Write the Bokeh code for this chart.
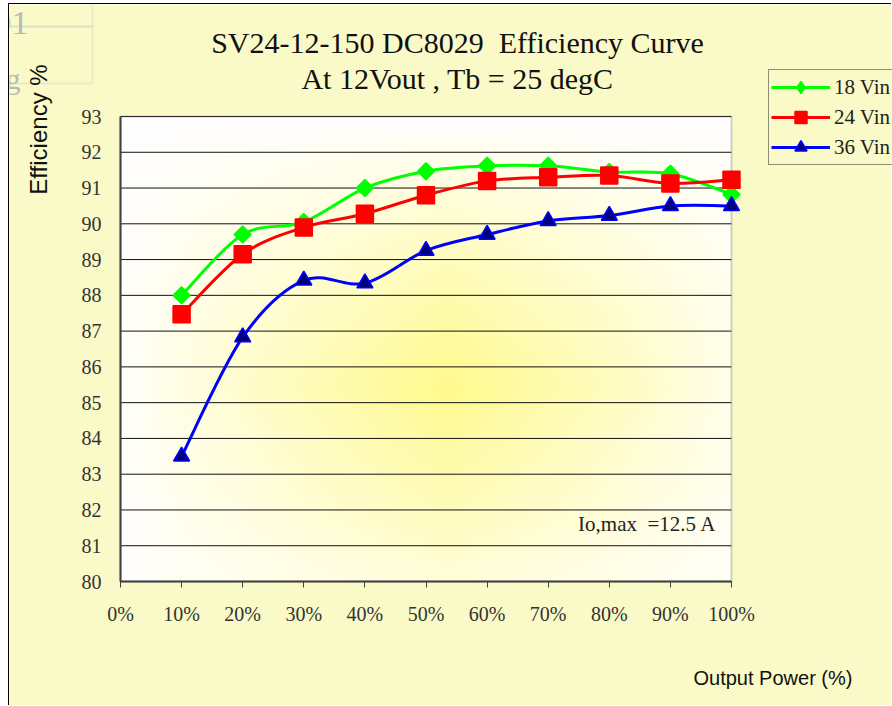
import numpy as np
from bokeh.plotting import figure
from bokeh.models import (Label, Legend, LegendItem, FixedTicker, Range1d,
                          ColumnDataSource, BoxAnnotation)
from bokeh.embed import file_html
from bokeh.resources import INLINE

# ---------------- data ----------------
load_pct = [10, 20, 30, 40, 50, 60, 70, 80, 90, 100]
eff_18vin = [88.0, 89.7, 90.05, 91.0, 91.47, 91.62, 91.62, 91.45, 91.4, 90.82]
eff_24vin = [87.47, 89.15, 89.9, 90.28, 90.8, 91.2, 91.3, 91.35, 91.13, 91.23]
eff_36vin = [83.5, 86.83, 88.42, 88.34, 89.25, 89.7, 90.08, 90.23, 90.5, 90.5]
series_names = ["18 Vin", "24 Vin", "36 Vin"]
x_ticks = [0, 10, 20, 30, 40, 50, 60, 70, 80, 90, 100]
x_tick_labels = ["0%", "10%", "20%", "30%", "40%", "50%", "60%", "70%", "80%", "90%", "100%"]
y_ticks = list(range(80, 94))
title_1 = "SV24-12-150 DC8029\u00a0 Efficiency Curve"
title_2 = "At 12Vout , Tb = 25 degC"
note = "Io,max \u00a0=12.5 A"
x_title = "Output Power (%)"
y_title = "Efficiency %"

# ---------------- layout ----------------
OX, OY = 9, 4                  # canvas origin on the page (css margin + border)
W, H = 892 - OX, 706 - OY
FL, FR, FT, FB = 120, 731, 116, 581   # plot-area edges on the page
BG = "#FAFAC8"
SERIF = "Liberation Serif"
SANS = "Liberation Sans"

x0d, x1d = x_ticks[0], x_ticks[-1]
y0d, y1d = y_ticks[0], y_ticks[-1]
kx = (FR - FL) / (x1d - x0d)   # px per x unit
ky = (FB - FT) / (y1d - y0d)   # px per y unit
xr = Range1d(x0d - (FL - OX) / kx, x1d + (OX + W - FR) / kx)
yr = Range1d(y0d - (OY + H - FB) / ky, y1d + (FT - OY) / ky)

p = figure(width=W, height=H, output_backend="svg", toolbar_location=None,
           x_range=xr, y_range=yr, min_border=0, min_border_left=0,
           min_border_right=0, min_border_top=0, min_border_bottom=0)
p.styles = {"margin-left": "8px", "margin-top": "3px",
            "border-left": "1px solid #000000", "border-top": "1px solid #000000"}
p.background_fill_color = BG
p.border_fill_color = BG
p.outline_line_color = None

# white plot area with a soft yellow "from centre" glow
pw, ph = FR - FL, FB - FT
nr, nc = ph // 2 + 1, pw // 2 + 1
yy, xx = np.mgrid[0:nr, 0:nc]
px = xx * 2.0
py = (nr - 1 - yy) * 2.0  # distance from top of plot area
cx, cy, rx, ry = 327.0, 270.0, 330.0, 265.0
fu = np.clip(1 - np.abs(px - cx) / rx, 0, 1)
fv = np.clip(1 - np.abs(py - cy) / ry, 0, 1)
t = (fu * fv) ** 0.85
g = 255 - t * (255 - 250)
b = 255 - t * (255 - 140)
img = np.empty((nr, nc), dtype=np.uint32)
view = img.view(dtype=np.uint8).reshape((nr, nc, 4))
view[..., 0] = 255
view[..., 1] = g.astype(np.uint8)
view[..., 2] = b.astype(np.uint8)
view[..., 3] = 255
p.image_rgba(image=[img], x=x0d, y=y0d, dw=x1d - x0d, dh=y1d - y0d, level="image")

# horizontal grid lines limited to the plot area
p.segment(x0=[x0d] * len(y_ticks), x1=[x1d] * len(y_ticks), y0=y_ticks, y1=y_ticks,
          line_color="#111111", line_width=1, level="underlay")
p.xgrid.grid_line_color = None
p.ygrid.grid_line_color = None
# plot-area frame
p.add_layout(BoxAnnotation(left=x0d, right=x1d, bottom=y0d, top=y1d,
                           fill_alpha=0, line_color="#6A6A6A", line_width=2,
                           level="underlay"))

# axes drawn at the plot-area edges
p.xaxis.fixed_location = y0d
p.yaxis.fixed_location = x0d
p.xaxis.bounds = (x0d, x1d)
p.yaxis.bounds = (y0d, y1d)
p.xaxis.ticker = FixedTicker(ticks=x_ticks)
p.xaxis.major_label_overrides = {k: v for k, v in zip(x_ticks, x_tick_labels)}
p.yaxis.ticker = FixedTicker(ticks=y_ticks)
for ax in (p.xaxis, p.yaxis):
    ax.axis_line_color = "#404040"
    ax.axis_line_width = 2
    ax.minor_tick_line_color = None
    ax.major_label_text_font = SERIF
    ax.major_label_text_font_size = "20px"
    ax.major_label_text_color = "#333333"
    ax.major_tick_line_color = "#404040"
p.xaxis.major_tick_out = 6
p.xaxis.major_tick_in = 0
p.xaxis.major_label_standoff = 15
p.yaxis.major_tick_out = 0
p.yaxis.major_tick_in = 0
p.yaxis.major_label_standoff = 19


def smooth_segments(xs, ys):
    xs = np.asarray(xs, float)
    ys = np.asarray(ys, float)
    n = len(xs)
    out = {k: [] for k in ("x0", "y0", "x1", "y1", "cx0", "cy0", "cx1", "cy1")}
    for i in range(n - 1):
        a = max(i - 1, 0)
        c = min(i + 2, n - 1)
        out["x0"].append(xs[i]); out["y0"].append(ys[i])
        out["x1"].append(xs[i + 1]); out["y1"].append(ys[i + 1])
        out["cx0"].append(xs[i] + (xs[i + 1] - xs[a]) / 6)
        out["cy0"].append(ys[i] + (ys[i + 1] - ys[a]) / 6)
        out["cx1"].append(xs[i + 1] - (xs[c] - xs[i]) / 6)
        out["cy1"].append(ys[i + 1] - (ys[c] - ys[i]) / 6)
    return ColumnDataSource(out)


styles = [
    dict(color="#00FF00", marker="square", angle=np.pi / 4, size=12,
         fill="#00FF00", line="#00FF00", legend_marker="diamond"),
    dict(color="#FF0000", marker="square", angle=0, size=17,
         fill="#FF0000", line="#FF0000", legend_marker=None),
    dict(color="#0000FF", marker="triangle", angle=0, size=16,
         fill="#000080", line="#0000FF", legend_marker=None),
]
items = []
for name, vals, st in zip(series_names, [eff_18vin, eff_24vin, eff_36vin], styles):
    src = smooth_segments(load_pct, vals)
    r_line = p.bezier(x0="x0", y0="y0", x1="x1", y1="y1", cx0="cx0", cy0="cy0",
                      cx1="cx1", cy1="cy1", source=src, line_color=st["color"],
                      line_width=3)
    if st["legend_marker"]:
        # diamond used for the legend swatch; drawn under the rotated squares
        r_leg = p.scatter(x=load_pct, y=vals, marker=st["legend_marker"], size=11,
                          fill_color=st["fill"], line_color=st["line"], line_width=1.5)
    r_mark = p.scatter(x=load_pct, y=vals, marker=st["marker"], angle=st["angle"],
                       size=st["size"], fill_color=st["fill"], line_color=st["line"],
                       line_width=1.5)
    items.append(LegendItem(label=name,
                            renderers=[r_line, r_leg if st["legend_marker"] else r_mark]))

legend = Legend(items=items, location=(768 - OX, OY + H - 165))
legend.background_fill_color = BG
legend.background_fill_alpha = 1
legend.border_line_color = "#222222"
legend.border_line_width = 1
legend.label_text_font = SERIF
legend.label_text_font_size = "21px"
legend.label_text_color = "#222222"
legend.glyph_width = 59
legend.glyph_height = 30
legend.label_height = 30
legend.spacing = 0
legend.padding = 2
legend.margin = 0
legend.label_standoff = 4
p.add_layout(legend)


def lab(text, x, y, **kw):
    """x, y are page pixels; screen units are measured from the bottom-left."""
    p.add_layout(Label(text=text, x=x - OX, y=OY + H - y, x_units="screen",
                       y_units="screen", **kw))


# faint leftovers of a neighbouring table cell (top-left corner)
p.add_layout(BoxAnnotation(left=-10, right=92 - OX, top=OY + H + 10, bottom=OY + H - 26,
                           left_units="screen", right_units="screen",
                           top_units="screen", bottom_units="screen",
                           fill_alpha=0, line_color="#C8C8C8", line_width=2))
p.add_layout(BoxAnnotation(left=-10, right=92 - OX, top=OY + H - 26, bottom=OY + H - 83,
                           left_units="screen", right_units="screen",
                           top_units="screen", bottom_units="screen",
                           fill_alpha=0, line_color="#C8C8C8", line_width=2))
lab("01", 28, 22, text_font=SERIF, text_font_size="34px", text_align="right",
    text_baseline="alphabetic", text_color="#B8B8B8")
lab("ng", 20, 78, text_font=SERIF, text_font_size="30px", text_align="right",
    text_baseline="alphabetic", text_color="#B8B8B8")

lab(title_1, 457, 42, text_font=SERIF, text_font_size="30px", text_align="center",
    text_baseline="middle", text_color="#111111")
lab(title_2, 457, 78, text_font=SERIF, text_font_size="30px", text_align="center",
    text_baseline="middle", text_color="#111111")
lab(note, 716, 523, text_font=SERIF, text_font_size="21px", text_align="right",
    text_baseline="middle", text_color="#222222")
lab(x_title, 693, 677, text_font=SANS, text_font_size="20px", text_align="left",
    text_baseline="middle", text_color="#111111")
lab(y_title, 38, 129, text_font=SANS, text_font_size="24px", text_align="center",
    text_baseline="middle", text_color="#111111", angle=np.pi / 2)

open("out.html", "w").write(file_html(p, INLINE))
